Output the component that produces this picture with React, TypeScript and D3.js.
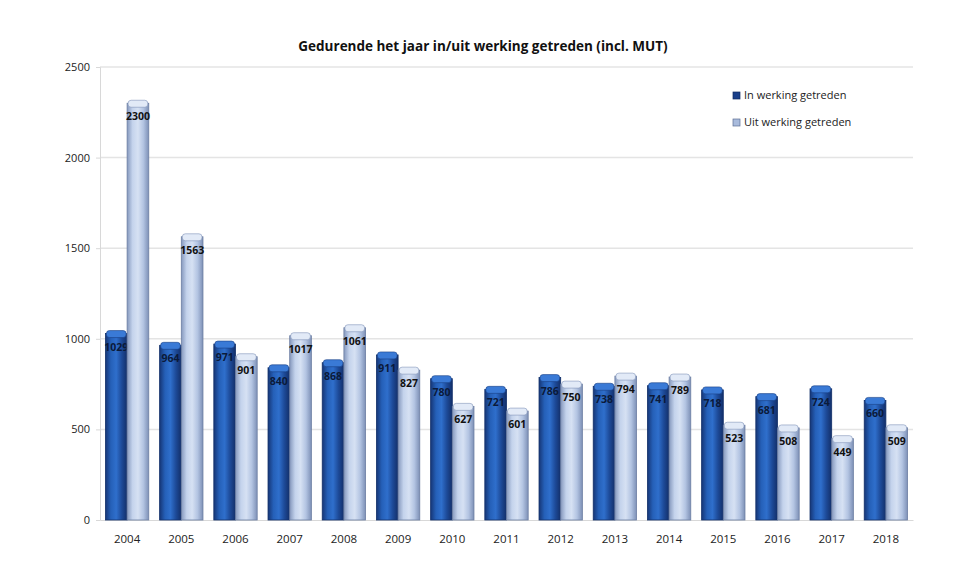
import { useEffect, useRef } from 'react';
import * as d3 from 'd3';

// Years on the x axis
const years = ['2004', '2005', '2006', '2007', '2008', '2009', '2010', '2011', '2012', '2013', '2014', '2015', '2016', '2017', '2018'];
// In werking getreden
const inValues = [1029, 964, 971, 840, 868, 911, 780, 721, 786, 738, 741, 718, 681, 724, 660];
// Uit werking getreden
const outValues = [2300, 1563, 901, 1017, 1061, 827, 627, 601, 750, 794, 789, 523, 508, 449, 509];
const yTicks = [0, 500, 1000, 1500, 2000, 2500];
const seriesNames = ['In werking getreden', 'Uit werking getreden'];

const W = 971;
const H = 581;
const margin = { top: 67, right: 58, bottom: 61, left: 100 };

const App = () => {
  const ref = useRef<SVGSVGElement | null>(null);

  useEffect(() => {
    if (!ref.current) return;
    const svg = d3.select(ref.current);
    svg.selectAll('*').remove();

    const x = d3.scaleBand<string>()
      .domain(years)
      .range([margin.left, W - margin.right])
      .paddingInner(0.2)
      .paddingOuter(0.1);
    const x1 = d3.scaleBand<number>()
      .domain([0, 1])
      .range([0, x.bandwidth()]);
    const y = d3.scaleLinear()
      .domain([0, 2500])
      .range([H - margin.bottom, margin.top]);

    const defs = svg.append('defs');
    const grads = [
      ['gDark', ['#163676', '#2560b8', '#2f6fcc', '#1d4a98', '#132f69']],
      ['gLight', ['#8598bd', '#c4d3ec', '#d6e1f3', '#b3c4e2', '#7d90b6']],
    ] as const;
    grads.forEach(([id, stops]) => {
      const g = defs.append('linearGradient').attr('id', id).attr('x1', '0').attr('x2', '1').attr('y1', '0').attr('y2', '0');
      stops.forEach((c, i) => g.append('stop').attr('offset', `${(i / (stops.length - 1)) * 100}%`).attr('stop-color', c));
    });

    // gridlines
    svg.append('g')
      .selectAll('line')
      .data(yTicks.slice(1))
      .join('line')
      .attr('x1', margin.left)
      .attr('x2', W - margin.right)
      .attr('y1', d => y(d))
      .attr('y2', d => y(d))
      .attr('stroke', '#e4e4e4')
      .attr('stroke-width', 1.5);

    // y axis
    const yAxis = svg.append('g')
      .attr('transform', `translate(${margin.left},0)`)
      .call(d3.axisLeft(y).tickValues(yTicks).tickFormat(d3.format('d')).tickSize(4).tickPadding(6));
    yAxis.select('.domain').attr('stroke', '#d8d8d8');
    yAxis.selectAll('.tick line').attr('stroke', '#d8d8d8');
    yAxis.selectAll('text')
      .style('font-family', 'Open Sans, sans-serif')
      .style('font-size', '11px')
      .attr('fill', '#222');

    // x axis
    const xAxis = svg.append('g')
      .attr('transform', `translate(0,${y(0)})`)
      .call(d3.axisBottom(x).tickSize(0).tickPadding(15));
    xAxis.select('.domain').attr('stroke', '#d8d8d8');
    xAxis.selectAll('text')
      .style('font-family', 'Open Sans, sans-serif')
      .style('font-size', '11.5px')
      .attr('fill', '#222');

    const series = [inValues, outValues];
    series.forEach((vals, s) => {
      const g = svg.append('g');
      const bw = x1.bandwidth();
      g.selectAll('rect.bar')
        .data(vals)
        .join('rect')
        .attr('class', 'bar')
        .attr('x', (_, i) => (x(years[i]) || 0) + (x1(s) || 0))
        .attr('y', d => y(d))
        .attr('width', bw)
        .attr('height', d => y(0) - y(d))
        .attr('fill', s === 0 ? 'url(#gDark)' : 'url(#gLight)')
        .attr('stroke', s === 0 ? '#12306a' : '#6d7fa3')
        .attr('stroke-width', 0.8);
      // top cap
      g.selectAll('rect.cap')
        .data(vals)
        .join('rect')
        .attr('class', 'cap')
        .attr('x', (_, i) => (x(years[i]) || 0) + (x1(s) || 0) + 1)
        .attr('y', d => y(d) - 3)
        .attr('width', bw - 2)
        .attr('height', 7)
        .attr('rx', 3)
        .attr('fill', s === 0 ? '#3a7ad6' : '#e2eaf7')
        .attr('stroke', s === 0 ? '#1a3f85' : '#8193b8')
        .attr('stroke-width', 0.6);
      // value labels
      g.selectAll('text.val')
        .data(vals)
        .join('text')
        .attr('class', 'val')
        .attr('x', (_, i) => (x(years[i]) || 0) + (x1(s) || 0) + bw / 2)
        .attr('y', d => y(d) + 17)
        .attr('text-anchor', 'middle')
        .style('font-family', 'Open Sans, sans-serif')
        .style('font-size', '10.5px')
        .style('font-weight', 'bold')
        .attr('fill', s === 0 ? '#0b1a3a' : '#111')
        .text(d => d);
    });

    // title
    svg.append('text')
      .attr('x', 483)
      .attr('y', 51)
      .attr('text-anchor', 'middle')
      .style('font-family', 'Open Sans, sans-serif')
      .style('font-size', '13.5px')
      .style('font-weight', 'bold')
      .attr('fill', '#111')
      .text('Gedurende het jaar in/uit werking getreden (incl. MUT)');

    // legend
    const legend = svg.append('g').attr('transform', 'translate(733,92)');
    seriesNames.forEach((name, i) => {
      const item = legend.append('g').attr('transform', `translate(0,${i * 27})`);
      item.append('rect')
        .attr('width', 7)
        .attr('height', 7)
        .attr('fill', i === 0 ? '#1a3f8a' : '#a9bbdc')
        .attr('stroke', i === 0 ? '#0f2a60' : '#5d6f95')
        .attr('stroke-width', 0.7);
      item.append('text')
        .attr('x', 11)
        .attr('y', 7)
        .style('font-family', 'Open Sans, sans-serif')
        .style('font-size', '11px')
        .attr('fill', '#222')
        .text(name);
    });

    return () => {
      svg.selectAll('*').remove();
    };
  }, []);

  return <svg ref={ref} width={W} height={H} style={{ display: 'block', position: 'absolute', left: 0, top: 0, background: '#fff' }} />;
};

export default App;
